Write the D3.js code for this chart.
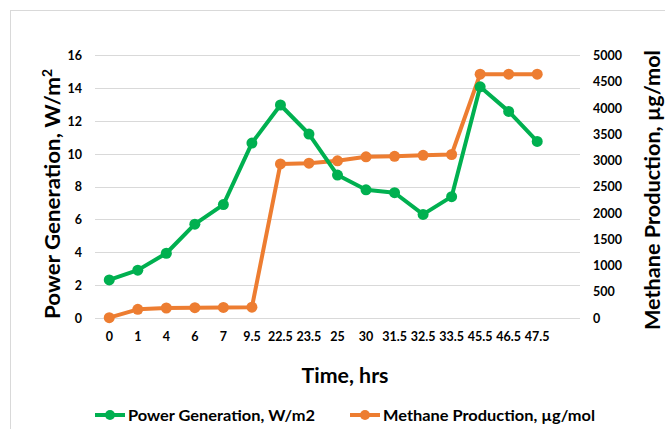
<!DOCTYPE html>
<html><head><meta charset="utf-8">
<script src="https://cdn.jsdelivr.net/npm/d3@7"></script>
<style>
html,body{margin:0;padding:0;background:#fff;}
svg text{font-family:Lato,"Open Sans",sans-serif;font-weight:bold;fill:#000;}
</style></head>
<body>
<svg id="chart" width="665" height="429"></svg>
<script>
const categories = ["0","1","4","6","7","9.5","22.5","23.5","25","30","31.5","32.5","33.5","45.5","46.5","47.5"];
const powerValues = [2.3,2.9,3.93,5.7,6.9,10.65,12.97,11.2,8.7,7.8,7.62,6.3,7.38,14.08,12.58,10.75];
const methaneValues = [0,160,185,190,195,200,2930,2945,2990,3065,3075,3095,3110,4640,4640,4640];
const leftTicks = [0,2,4,6,8,10,12,14,16];
const rightTicks = [0,500,1000,1500,2000,2500,3000,3500,4000,4500,5000];
const seriesNames = ["Power Generation, W/m2","Methane Production, µg/mol"];
const colors = ["#00b050","#ed7d31"];

const svg = d3.select("#chart");
// outer chart border
svg.append("rect").attr("x",10.5).attr("y",10.5).attr("width",700).attr("height",500)
  .attr("fill","none").attr("stroke","#d9d9d9");

const plot = {left:95, right:580, top:55.3, bottom:317.7};
const x = d3.scaleBand().domain([...categories, "_blank"]).range([plot.left, plot.right]);
const cx = c => x(c) + x.bandwidth()/2;
const yL = d3.scaleLinear().domain([0,16]).range([plot.bottom, plot.top]);
const yR = d3.scaleLinear().domain([0,5000]).range([plot.bottom, plot.top]);

// gridlines
svg.append("g").selectAll("line").data(leftTicks).join("line")
  .attr("x1",plot.left).attr("x2",plot.right)
  .attr("y1",d=>Math.round(yL(d))+0.5).attr("y2",d=>Math.round(yL(d))+0.5)
  .attr("stroke","#d9d9d9").attr("stroke-width",1);

// left axis
const axL = d3.axisLeft(yL).tickValues(leftTicks).tickSize(0).tickPadding(0);
const gL = svg.append("g").attr("transform",`translate(82,0)`).call(axL);
gL.select(".domain").remove();
gL.selectAll("text").style("font-size","12.5px").attr("dy","0.35em");

// right axis
const axR = d3.axisRight(yR).tickValues(rightTicks).tickFormat(d3.format("d")).tickSize(0).tickPadding(0);
const gR = svg.append("g").attr("transform",`translate(593,0)`).call(axR);
gR.select(".domain").remove();
gR.selectAll("text").style("font-size","12.5px").attr("dy","0.35em");

// bottom axis
const axB = d3.axisBottom(x).tickValues(categories).tickSize(0).tickPadding(0);
const gB = svg.append("g").attr("transform",`translate(0,332)`).call(axB);
gB.select(".domain").remove();
gB.selectAll("text").style("font-size","12.5px").attr("dy","0.71em");

// axis titles
svg.append("text").attr("transform","translate(60,194) rotate(-90)")
  .attr("text-anchor","middle").style("font-size","21px")
  .attr("textLength",250).attr("lengthAdjust","spacingAndGlyphs")
  .html('Power Generation, W/m<tspan dy="-8" style="font-size:13px">2</tspan>');
svg.append("text").attr("transform","translate(660,190) rotate(-90)")
  .attr("text-anchor","middle").style("font-size","21px")
  .attr("textLength",280).attr("lengthAdjust","spacingAndGlyphs")
  .text("Methane Production, µg/mol");
svg.append("text").attr("x",345).attr("y",383).attr("text-anchor","middle")
  .style("font-size","21px")
  .attr("textLength",87).attr("lengthAdjust","spacingAndGlyphs")
  .text("Time, hrs");

// series
const series = [
  {vals: methaneValues, y: yR, color: colors[1]},
  {vals: powerValues, y: yL, color: colors[0]}
];
const line = (ys) => d3.line().x((d,i)=>cx(categories[i])).y(d=>ys(d));
series.forEach(s=>{
  const g = svg.append("g");
  g.append("path").datum(s.vals).attr("d", line(s.y)).attr("fill","none")
    .attr("stroke",s.color).attr("stroke-width",4).attr("stroke-linejoin","round");
  g.selectAll("circle").data(s.vals).join("circle")
    .attr("cx",(d,i)=>cx(categories[i])).attr("cy",d=>s.y(d)).attr("r",5.5)
    .attr("fill",s.color);
});

// legend
const legendItems = [
  {name: seriesNames[0], color: colors[0], x: 95, len: 187},
  {name: seriesNames[1], color: colors[1], x: 350, len: 212}
];
const lg = svg.append("g");
legendItems.forEach(it=>{
  lg.append("line").attr("x1",it.x).attr("x2",it.x+30).attr("y1",415).attr("y2",415)
    .attr("stroke",it.color).attr("stroke-width",4);
  lg.append("circle").attr("cx",it.x+15).attr("cy",415).attr("r",5).attr("fill",it.color);
  lg.append("text").attr("x",it.x+33).attr("y",415).attr("dy","0.36em")
    .style("font-size","16px")
    .attr("textLength",it.len).attr("lengthAdjust","spacingAndGlyphs")
    .text(it.name);
});
</script>
</body></html>
